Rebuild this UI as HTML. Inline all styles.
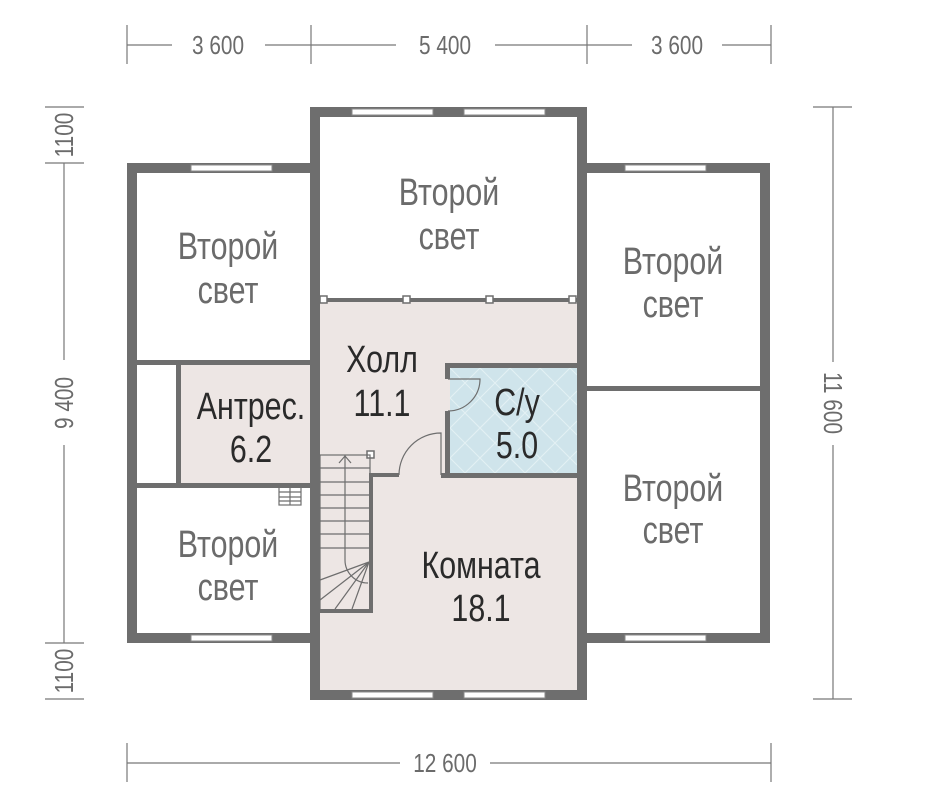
<!DOCTYPE html>
<html><head><meta charset="utf-8"><style>
html,body{margin:0;padding:0;background:#fff;}
svg{display:block}
.g{font-family:"Liberation Sans",sans-serif;fill:#6b6b6b;}
.d{font-family:"Liberation Sans",sans-serif;fill:#2a2a2a;}
.dim{font-family:"Liberation Sans",sans-serif;fill:#6b6b6b;font-size:26px;}
</style></head><body>
<svg width="928" height="803" viewBox="0 0 928 803" xmlns="http://www.w3.org/2000/svg">
<rect x="320" y="302" width="257" height="388" fill="#ede6e4"/>
<rect x="180" y="365" width="140" height="120" fill="#ede6e4"/>
<rect x="450" y="368" width="127" height="105" fill="#cfe4eb"/>
<g stroke="#e6f2f5" stroke-width="1" opacity="0.9">
<path d="M450 398 L480 368 M450 428 L510 368 M450 458 L540 368 M465 473 L570 368 M495 473 L577 391 M525 473 L577 421 M555 473 L577 451 M450 398 L525 473 M450 428 L495 473 M450 458 L465 473 M480 368 L577 465 M510 368 L577 435 M540 368 L577 405 M570 368 L577 375 M450 368 L555 473"/>
</g>
<g fill="#6e6e6e">
<rect x="310" y="107" width="277" height="10"/>
<rect x="310" y="107" width="10" height="592"/>
<rect x="577" y="107" width="10" height="592"/>
<rect x="310" y="690" width="277" height="10"/>
<rect x="127" y="163" width="193" height="10"/>
<rect x="127" y="163" width="10" height="480"/>
<rect x="127" y="633" width="193" height="10"/>
<rect x="137" y="360" width="183" height="5"/>
<rect x="137" y="483" width="183" height="5"/>
<rect x="176" y="360" width="5" height="128"/>
<rect x="577" y="163" width="193" height="10"/>
<rect x="760" y="163" width="10" height="480"/>
<rect x="577" y="633" width="193" height="10"/>
<rect x="582" y="386" width="178" height="5"/>
<rect x="320" y="298" width="257" height="4"/>
<rect x="445" y="363" width="132" height="5"/>
<rect x="445" y="363" width="5" height="16"/>
<rect x="445" y="411" width="5" height="66"/>
<rect x="441" y="473" width="136" height="5"/>
<rect x="369" y="473" width="4" height="140"/>
<rect x="320" y="609" width="53" height="4"/>
<rect x="369" y="473" width="30" height="4"/>
</g>
<g fill="#fff" stroke="#8a8a8a" stroke-width="1">
<rect x="352" y="109" width="81" height="6"/>
<rect x="464" y="109" width="81" height="6"/>
<rect x="352" y="692" width="81" height="6"/>
<rect x="464" y="692" width="81" height="6"/>
<rect x="191" y="165" width="81" height="6"/>
<rect x="191" y="635" width="81" height="6"/>
<rect x="625" y="165" width="81" height="6"/>
<rect x="625" y="635" width="81" height="6"/>
</g>
<g fill="#fff" stroke="#6e6e6e" stroke-width="1.5">
<rect x="320" y="296" width="7" height="7"/>
<rect x="403" y="296" width="7" height="7"/>
<rect x="486" y="296" width="7" height="7"/>
<rect x="569" y="296" width="7" height="7"/>
<rect x="367" y="451" width="7" height="7"/>
</g>
<g fill="none" stroke="#6e6e6e" stroke-width="1.2">
<path d="M441 475 L441 433 A42 42 0 0 0 399 475"/>
<path d="M448 379 L480 379 A32 32 0 0 1 448 411"/>
</g>
<g stroke="#6e6e6e" stroke-width="1.2" fill="none">
<rect x="320" y="455" width="50" height="155"/>
<path d="M320 468 H370 M320 482 H370 M320 495 H370 M320 508 H370 M320 521 H370 M320 534 H370 M320 548 H370"/>
<path d="M345 455 V560 A23 23 0 0 0 368 583"/>
<path d="M339 463 L345 456 L351 463"/>
<path d="M369 562 L320 580 M369 562 L320 600 M369 562 L335 609 M369 562 L352 609"/>
<rect x="279" y="487" width="22" height="18"/>
<path d="M279 492 H301 M279 497 H301 M279 501 H301 M290 487 V505"/>
</g>
<g stroke="#777" stroke-width="1.2">
<line x1="127" y1="45" x2="172" y2="45"/><line x1="265" y1="45" x2="311" y2="45"/>
<line x1="311" y1="45" x2="396" y2="45"/><line x1="495" y1="45" x2="587" y2="45"/>
<line x1="587" y1="45" x2="632" y2="45"/><line x1="722" y1="45" x2="771" y2="45"/>
<line x1="127" y1="25" x2="127" y2="64"/><line x1="311" y1="25" x2="311" y2="64"/>
<line x1="587" y1="25" x2="587" y2="64"/><line x1="771" y1="25" x2="771" y2="64"/>
<line x1="127" y1="763" x2="400" y2="763"/><line x1="490" y1="763" x2="771" y2="763"/>
<line x1="127" y1="743" x2="127" y2="782"/><line x1="771" y1="743" x2="771" y2="782"/>
<line x1="833" y1="107" x2="833" y2="362"/><line x1="833" y1="445" x2="833" y2="699"/>
<line x1="813" y1="107" x2="852" y2="107"/><line x1="813" y1="699" x2="852" y2="699"/>
<line x1="64" y1="163" x2="64" y2="360"/><line x1="64" y1="445" x2="64" y2="643"/>
<line x1="45" y1="107" x2="84" y2="107"/><line x1="45" y1="163" x2="84" y2="163"/>
<line x1="45" y1="643" x2="84" y2="643"/><line x1="45" y1="699" x2="84" y2="699"/>
</g>
<g class="dim" text-anchor="middle">
<text transform="translate(218,54) scale(0.8,1)">3 600</text>
<text transform="translate(445,54) scale(0.8,1)">5 400</text>
<text transform="translate(677,54) scale(0.8,1)">3 600</text>
<text transform="translate(445,772) scale(0.8,1)">12 600</text>
<text transform="translate(824,403) rotate(90) scale(0.8,1)">11 600</text>
<text transform="translate(73,403) rotate(-90) scale(0.8,1)">9 400</text>
<text transform="translate(73,135) rotate(-90) scale(0.8,1)">1100</text>
<text transform="translate(73,671) rotate(-90) scale(0.8,1)">1100</text>
</g>
<g class="g" font-size="38" text-anchor="middle">
<text transform="translate(228,259) scale(0.8,1)">Второй</text>
<text transform="translate(228,303) scale(0.8,1)">свет</text>
<text transform="translate(449,205) scale(0.8,1)">Второй</text>
<text transform="translate(449,249) scale(0.8,1)">свет</text>
<text transform="translate(673,274) scale(0.8,1)">Второй</text>
<text transform="translate(673,317) scale(0.8,1)">свет</text>
<text transform="translate(673,501) scale(0.8,1)">Второй</text>
<text transform="translate(673,543) scale(0.8,1)">свет</text>
<text transform="translate(228,557) scale(0.8,1)">Второй</text>
<text transform="translate(228,600) scale(0.8,1)">свет</text>
</g>
<g class="d" font-size="38" text-anchor="middle">
<text transform="translate(382,372) scale(0.8,1)">Холл</text>
<text transform="translate(382,416) scale(0.8,1)">11.1</text>
<text transform="translate(251,419) scale(0.8,1)">Антрес.</text>
<text transform="translate(251,462) scale(0.8,1)">6.2</text>
<text transform="translate(517,415) scale(0.8,1)">С/у</text>
<text transform="translate(517,458) scale(0.8,1)">5.0</text>
<text transform="translate(481,578) scale(0.8,1)">Комната</text>
<text transform="translate(481,621) scale(0.8,1)">18.1</text>
</g>
</svg>
</body></html>
